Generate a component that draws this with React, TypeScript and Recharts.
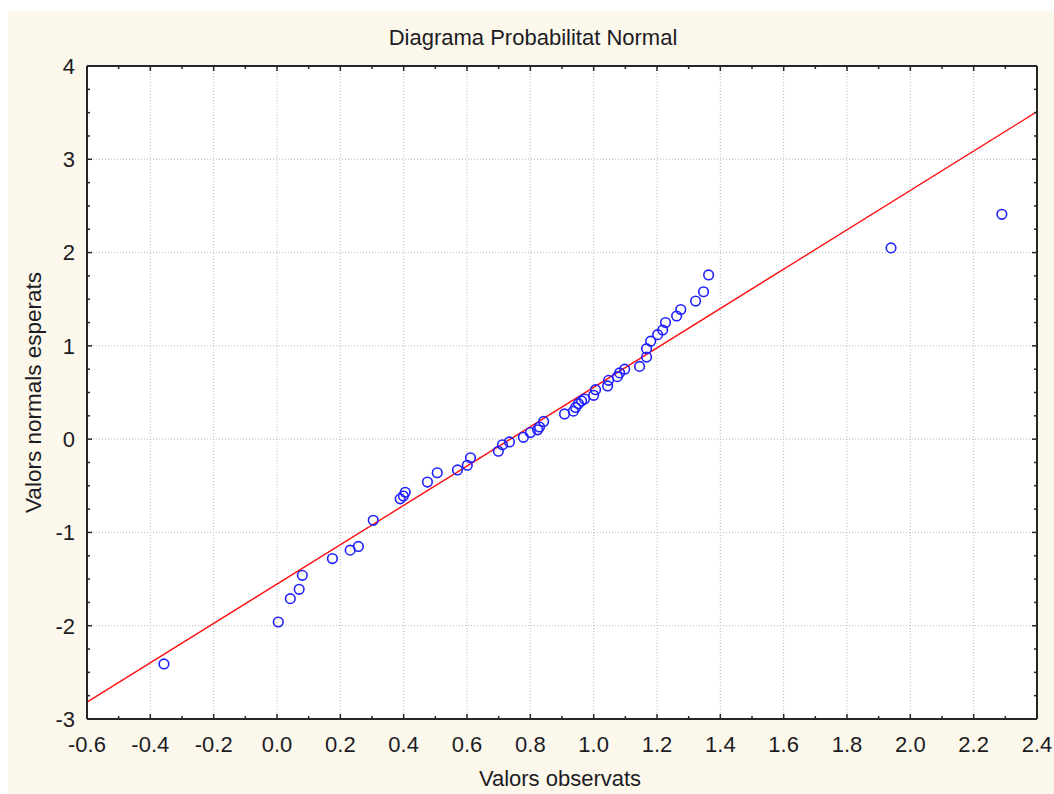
import React from 'react';
import { ScatterChart, Scatter, XAxis, YAxis, ReferenceLine, ReferenceArea } from 'recharts';

// ---- data ----
const observedValues = [
  -0.357, 0.004, 0.042, 0.07, 0.08, 0.175, 0.231, 0.257, 0.304, 0.389,
  0.399, 0.405, 0.475, 0.506, 0.57, 0.601, 0.611, 0.699, 0.712, 0.734,
  0.778, 0.8, 0.823, 0.829, 0.842, 0.908, 0.936, 0.943, 0.952, 0.962,
  0.971, 1.0, 1.006, 1.044, 1.047, 1.075, 1.082, 1.098, 1.145, 1.167,
  1.167, 1.18, 1.202, 1.218, 1.227, 1.262, 1.275, 1.322, 1.347, 1.363,
  1.939, 2.289,
];
const expectedNormals = [
  -2.41, -1.96, -1.71, -1.61, -1.46, -1.28, -1.19, -1.15, -0.87, -0.64,
  -0.61, -0.57, -0.46, -0.36, -0.33, -0.28, -0.2, -0.13, -0.06, -0.03,
  0.02, 0.07, 0.1, 0.13, 0.19, 0.27, 0.3, 0.34, 0.38, 0.41,
  0.43, 0.47, 0.53, 0.57, 0.63, 0.67, 0.71, 0.75, 0.78, 0.88,
  0.97, 1.05, 1.12, 1.17, 1.25, 1.32, 1.39, 1.48, 1.58, 1.76,
  2.05, 2.41,
];
const fitLineX = [-0.6, 2.4];
const fitLineY = [-2.82, 3.51];

const xDomain = [-0.6, 2.4];
const yDomain = [-3, 4];
const xTicks = [
  -0.6, -0.5, -0.4, -0.3, -0.2, -0.1, 0, 0.1, 0.2, 0.3, 0.4, 0.5, 0.6, 0.7, 0.8, 0.9,
  1.0, 1.1, 1.2, 1.3, 1.4, 1.5, 1.6, 1.7, 1.8, 1.9, 2.0, 2.1, 2.2, 2.3, 2.4,
];
const xLabelTicks = [-0.6, -0.4, -0.2, 0, 0.2, 0.4, 0.6, 0.8, 1.0, 1.2, 1.4, 1.6, 1.8, 2.0, 2.2, 2.4];
const xGridValues = [-0.4, -0.2, 0, 0.2, 0.4, 0.6, 0.8, 1.0, 1.2, 1.4, 1.6, 1.8, 2.0, 2.2];
const yTicks = [
  -3, -2.75, -2.5, -2.25, -2, -1.75, -1.5, -1.25, -1, -0.75, -0.5, -0.25, 0, 0.25, 0.5, 0.75,
  1, 1.25, 1.5, 1.75, 2, 2.25, 2.5, 2.75, 3, 3.25, 3.5, 3.75, 4,
];
const yLabelTicks = [-3, -2, -1, 0, 1, 2, 3, 4];
const yGridValues = [-2, -1, 0, 1, 2, 3];

const title = 'Diagrama Probabilitat Normal';
const xTitle = 'Valors observats';
const yTitle = 'Valors normals esperats';

const points = observedValues.map((x, i) => ({ x, y: expectedNormals[i] }));

const FONT = '"Liberation Sans", Arial, sans-serif';
const TEXT = '#1c1c24';
const FRAME = '#262626';

const isIn = (arr: number[], v: number) => arr.some((a) => Math.abs(a - v) < 1e-6);

const renderXTick = (p: any, side: 'bottom' | 'top') => {
  const { x, y, payload } = p;
  const v = payload.value;
  const major = isIn(xLabelTicks, v);
  const len = major ? 5 : 3;
  const dir = side === 'top' ? 1 : -1;
  return (
    <g>
      <line x1={x} x2={x} y1={y} y2={y + dir * len} stroke={FRAME} strokeWidth={1.5} />
      {side === 'bottom' && major && (
        <text x={x} y={y + 33} textAnchor="middle" fontFamily={FONT} fontSize={22} fill={TEXT}>
          {v.toFixed(1)}
        </text>
      )}
    </g>
  );
};

const renderYTick = (p: any, side: 'left' | 'right') => {
  const { x, y, payload } = p;
  const v = payload.value;
  const major = isIn(yLabelTicks, v);
  const len = major ? 5 : 3;
  const dir = side === 'left' ? 1 : -1;
  return (
    <g>
      <line x1={x} x2={x + dir * len} y1={y} y2={y} stroke={FRAME} strokeWidth={1.5} />
      {side === 'left' && major && (
        <text x={x - 12} y={y} dy="0.36em" textAnchor="end" fontFamily={FONT} fontSize={22} fill={TEXT}>
          {String(v)}
        </text>
      )}
    </g>
  );
};

const Ring = (props: any) => {
  const { cx, cy } = props;
  if (cx == null || cy == null) return <g />;
  return <circle cx={cx} cy={cy} r={4.8} fill="none" stroke="#1f1fff" strokeWidth={1.6} />;
};

export default function App() {
  return (
    <div
      style={{
        position: 'fixed',
        left: 8,
        top: 11,
        right: 0,
        bottom: 0,
        background: '#fdf8ec',
      }}
    >
      <ScatterChart
        width={1046}
        height={783}
        margin={{ top: 25, right: 0, bottom: 0, left: 0 }}
      >
        <XAxis
          type="number"
          dataKey="x"
          domain={xDomain}
          allowDataOverflow
          ticks={xTicks}
          interval={0}
          height={75}
          tickSize={0}
          tickMargin={0}
          tickLine={false}
          axisLine={{ stroke: FRAME, strokeWidth: 2 }}
          tick={(p: any) => renderXTick(p, 'bottom')}
          label={{
            content: (lp: any) => {
              const vb = lp.viewBox;
              return (
                <text
                  x={vb.x + vb.width / 2 - 2}
                  y={vb.y + 67}
                  textAnchor="middle"
                  fontFamily={FONT}
                  fontSize={22}
                  fill={TEXT}
                >
                  {xTitle}
                </text>
              );
            },
          }}
        />
        <XAxis
          xAxisId="top"
          orientation="top"
          type="number"
          dataKey="x"
          domain={xDomain}
          allowDataOverflow
          ticks={xTicks}
          interval={0}
          height={30}
          tickSize={0}
          tickMargin={0}
          tickLine={false}
          axisLine={{ stroke: FRAME, strokeWidth: 2 }}
          tick={(p: any) => renderXTick(p, 'top')}
          label={{
            content: (lp: any) => {
              const vb = lp.viewBox;
              return (
                <text
                  x={vb.x + vb.width / 2 - 29}
                  y={vb.y + 8.5}
                  textAnchor="middle"
                  fontFamily={FONT}
                  fontSize={22}
                  fill={TEXT}
                >
                  {title}
                </text>
              );
            },
          }}
        />
        <YAxis
          type="number"
          dataKey="y"
          domain={yDomain}
          allowDataOverflow
          ticks={yTicks}
          interval={0}
          width={79}
          tickSize={0}
          tickMargin={0}
          tickLine={false}
          axisLine={{ stroke: FRAME, strokeWidth: 2 }}
          tick={(p: any) => renderYTick(p, 'left')}
          label={{
            content: (lp: any) => {
              const vb = lp.viewBox;
              const cx = 33;
              const cy = vb.y + vb.height / 2;
              return (
                <text
                  x={cx}
                  y={cy}
                  transform={`rotate(-90 ${cx} ${cy})`}
                  textAnchor="middle"
                  fontFamily={FONT}
                  fontSize={22.5}
                  fill={TEXT}
                >
                  {yTitle}
                </text>
              );
            },
          }}
        />
        <YAxis
          yAxisId="right"
          orientation="right"
          type="number"
          dataKey="y"
          domain={yDomain}
          allowDataOverflow
          ticks={yTicks}
          interval={0}
          width={17}
          tickSize={0}
          tickMargin={0}
          tickLine={false}
          axisLine={{ stroke: FRAME, strokeWidth: 2 }}
          tick={(p: any) => renderYTick(p, 'right')}
        />
        <ReferenceArea
          x1={xDomain[0]}
          x2={xDomain[1]}
          y1={yDomain[0]}
          y2={yDomain[1]}
          fill="#ffffff"
          fillOpacity={1}
          stroke="none"
        />
        {xGridValues.map((v) => (
          <ReferenceLine key={'gx' + v} x={v} stroke="#b8b8b8" strokeDasharray="1 2" strokeWidth={1} />
        ))}
        {yGridValues.map((v) => (
          <ReferenceLine key={'gy' + v} y={v} stroke="#b8b8b8" strokeDasharray="1 2" strokeWidth={1} />
        ))}
        <ReferenceLine
          segment={[
            { x: fitLineX[0], y: fitLineY[0] },
            { x: fitLineX[1], y: fitLineY[1] },
          ]}
          stroke="#ff1010"
          strokeWidth={1.4}
          ifOverflow="visible"
        />
        <Scatter data={points} shape={Ring} isAnimationActive={false} />
      </ScatterChart>
    </div>
  );
}
